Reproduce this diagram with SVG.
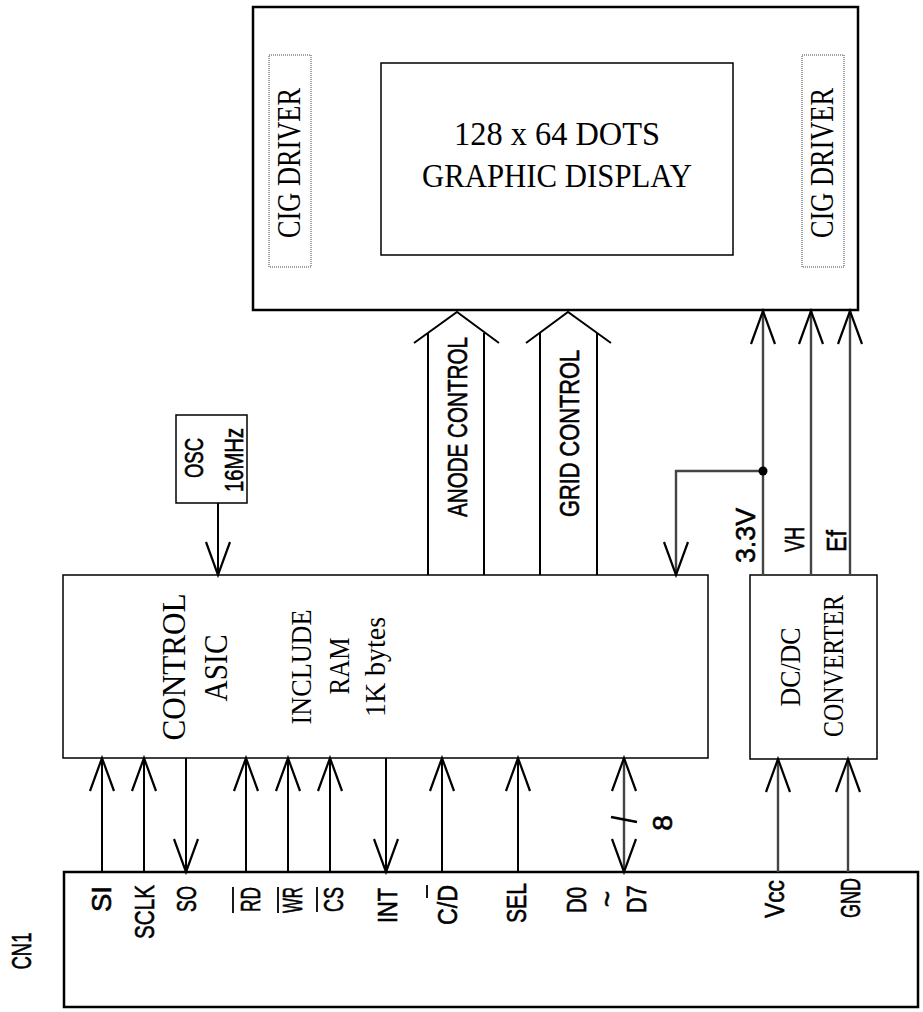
<svg xmlns="http://www.w3.org/2000/svg" width="923" height="1012" viewBox="0 0 923 1012">
<defs>
<style>
.box{fill:#fff;stroke:#000;stroke-width:1.5}
.bold{fill:#fff;stroke:#000;stroke-width:2.5}
.dot{fill:none;stroke:#444;stroke-width:1;stroke-dasharray:1 1}
.serif{font-family:"Liberation Serif","Times New Roman",serif;fill:#000;font-size:33px}
.sm{font-size:30px}
.sans{font-family:"Liberation Sans",Arial,sans-serif;fill:#000;stroke:#000;stroke-width:0.6;font-size:28px}
.w{stroke:#000;stroke-width:2;fill:none}
.g{stroke:#444;stroke-width:2.4;fill:none}
.ol{stroke:#000;stroke-width:1.8}
</style>
<marker id="ah" markerUnits="userSpaceOnUse" viewBox="-36 -15 39 30" refX="0" refY="0" markerWidth="39" markerHeight="30" orient="auto-start-reverse">
<path d="M-33,-12 L0,0 L-33,12" fill="none" stroke="#000" stroke-width="2.2"/>
</marker>
</defs>
<rect width="923" height="1012" fill="#fff"/>

<g id="display">
<rect class="bold" x="253" y="7" width="605" height="303"/>
<rect class="box" x="381" y="63" width="352" height="192"/>
<text class="serif" x="557" y="145" text-anchor="middle" textLength="206" lengthAdjust="spacingAndGlyphs">128 x 64 DOTS</text>
<text class="serif" x="557" y="187" text-anchor="middle" textLength="270" lengthAdjust="spacingAndGlyphs">GRAPHIC DISPLAY</text>
</g>
<g id="cig-left">
<rect class="dot" x="269" y="55" width="42" height="212"/>
<text class="serif" transform="translate(289,163) rotate(-90)" text-anchor="middle" dominant-baseline="central" textLength="150" lengthAdjust="spacingAndGlyphs">CIG DRIVER</text>
</g>
<g id="cig-right">
<rect class="dot" x="802" y="55" width="42" height="212"/>
<text class="serif" transform="translate(822,163) rotate(-90)" text-anchor="middle" dominant-baseline="central" textLength="150" lengthAdjust="spacingAndGlyphs">CIG DRIVER</text>
</g>

<g id="osc">
<rect class="box" x="176" y="415" width="71" height="88"/>
<text class="sans" style="font-size:25px" transform="translate(194,458) rotate(-90)" text-anchor="middle" dominant-baseline="central" textLength="40" lengthAdjust="spacingAndGlyphs">OSC</text>
<text class="sans" style="font-size:25px" transform="translate(234,460) rotate(-90)" text-anchor="middle" dominant-baseline="central" textLength="64" lengthAdjust="spacingAndGlyphs">16MHz</text>
</g>

<g id="asic">
<rect class="box" x="63" y="575" width="645" height="183"/>
<text class="serif" transform="translate(174,667) rotate(-90)" text-anchor="middle" dominant-baseline="central" textLength="147" lengthAdjust="spacingAndGlyphs">CONTROL</text>
<text class="serif" transform="translate(216,668) rotate(-90)" text-anchor="middle" dominant-baseline="central" textLength="67" lengthAdjust="spacingAndGlyphs">ASIC</text>
<text class="serif sm" transform="translate(300,667) rotate(-90)" text-anchor="middle" dominant-baseline="central" textLength="115" lengthAdjust="spacingAndGlyphs">INCLUDE</text>
<text class="serif sm" transform="translate(338,666) rotate(-90)" text-anchor="middle" dominant-baseline="central" textLength="57" lengthAdjust="spacingAndGlyphs">RAM</text>
<text class="serif sm" transform="translate(374,667) rotate(-90)" text-anchor="middle" dominant-baseline="central" textLength="100" lengthAdjust="spacingAndGlyphs">1K bytes</text>
</g>

<g id="dcdc">
<rect class="box" x="750" y="575" width="127" height="184"/>
<text class="serif sm" transform="translate(789,667) rotate(-90)" text-anchor="middle" dominant-baseline="central" textLength="79" lengthAdjust="spacingAndGlyphs">DC/DC</text>
<text class="serif sm" transform="translate(832,666) rotate(-90)" text-anchor="middle" dominant-baseline="central" textLength="142" lengthAdjust="spacingAndGlyphs">CONVERTER</text>
</g>

<g id="cn1">
<rect class="bold" x="64" y="872" width="854" height="135"/>
<text class="sans" transform="translate(21,951) rotate(-90)" text-anchor="middle" dominant-baseline="central" textLength="37" lengthAdjust="spacingAndGlyphs">CN1</text>
<text class="sans" transform="translate(101,886) rotate(-90)" text-anchor="end" dominant-baseline="central" textLength="26" lengthAdjust="spacingAndGlyphs">SI</text>
<text class="sans" transform="translate(144,885) rotate(-90)" text-anchor="end" dominant-baseline="central" textLength="54" lengthAdjust="spacingAndGlyphs">SCLK</text>
<text class="sans" transform="translate(186,886) rotate(-90)" text-anchor="end" dominant-baseline="central" textLength="26" lengthAdjust="spacingAndGlyphs">SO</text>
<text class="sans" transform="translate(250,887) rotate(-90)" text-anchor="end" dominant-baseline="central" textLength="25" lengthAdjust="spacingAndGlyphs">RD</text>
<line class="ol" x1="233" y1="887" x2="233" y2="913"/>
<text class="sans" transform="translate(292,887) rotate(-90)" text-anchor="end" dominant-baseline="central" textLength="26" lengthAdjust="spacingAndGlyphs">WR</text>
<line class="ol" x1="278" y1="887" x2="278" y2="913"/>
<text class="sans" transform="translate(333,887) rotate(-90)" text-anchor="end" dominant-baseline="central" textLength="25" lengthAdjust="spacingAndGlyphs">CS</text>
<line class="ol" x1="317" y1="887" x2="317" y2="912"/>
<text class="sans" transform="translate(387,888) rotate(-90)" text-anchor="end" dominant-baseline="central" textLength="35" lengthAdjust="spacingAndGlyphs">INT</text>
<text class="sans" transform="translate(447,885) rotate(-90)" text-anchor="end" dominant-baseline="central" textLength="40" lengthAdjust="spacingAndGlyphs">C/D</text>
<line class="ol" x1="427" y1="885" x2="427" y2="898"/>
<text class="sans" transform="translate(516,883) rotate(-90)" text-anchor="end" dominant-baseline="central" textLength="40" lengthAdjust="spacingAndGlyphs">SEL</text>
<text class="sans" transform="translate(576,887) rotate(-90)" text-anchor="end" dominant-baseline="central" textLength="26" lengthAdjust="spacingAndGlyphs">D0</text>
<text class="sans" transform="translate(607,899) rotate(-90)" text-anchor="middle" dominant-baseline="central">~</text>
<text class="sans" transform="translate(636,885) rotate(-90)" text-anchor="end" dominant-baseline="central" textLength="28" lengthAdjust="spacingAndGlyphs">D7</text>
<text class="sans" transform="translate(774,880) rotate(-90)" text-anchor="end" dominant-baseline="central" textLength="38" lengthAdjust="spacingAndGlyphs">Vcc</text>
<text class="sans" transform="translate(850,878) rotate(-90)" text-anchor="end" dominant-baseline="central" textLength="40" lengthAdjust="spacingAndGlyphs">GND</text>
</g>

<g id="connectors">
<line class="w" x1="218" y1="503" x2="218" y2="575" marker-end="url(#ah)"/>
<path class="w" d="M428,575 V333 M484,575 V333 M414,343 L457,312 L499,343"/>
<path class="w" d="M540,575 V333 M597,575 V333 M526,343 L568,312 L611,343"/>
<text class="sans" transform="translate(457,517) rotate(-90)" text-anchor="start" dominant-baseline="central" textLength="180" lengthAdjust="spacingAndGlyphs">ANODE CONTROL</text>
<text class="sans" transform="translate(569,517) rotate(-90)" text-anchor="start" dominant-baseline="central" textLength="167" lengthAdjust="spacingAndGlyphs">GRID CONTROL</text>
<line class="g" x1="763" y1="575" x2="763" y2="311" marker-end="url(#ah)"/>
<line class="g" x1="811" y1="575" x2="811" y2="311" marker-end="url(#ah)"/>
<line class="g" x1="850" y1="575" x2="850" y2="311" marker-end="url(#ah)"/>
<path class="g" d="M763,471 H676 V575" marker-end="url(#ah)"/>
<circle cx="763" cy="471" r="4.5" fill="#000"/>
<text class="sans" transform="translate(745,563) rotate(-90)" text-anchor="start" dominant-baseline="central" textLength="55" lengthAdjust="spacingAndGlyphs">3.3V</text>
<text class="sans" transform="translate(794,552) rotate(-90)" text-anchor="start" dominant-baseline="central" textLength="25" lengthAdjust="spacingAndGlyphs">VH</text>
<text class="sans" transform="translate(836,552) rotate(-90)" text-anchor="start" dominant-baseline="central" textLength="22" lengthAdjust="spacingAndGlyphs">Ef</text>
<line class="g" x1="778" y1="872" x2="778" y2="759" marker-end="url(#ah)"/>
<line class="g" x1="848" y1="872" x2="848" y2="759" marker-end="url(#ah)"/>
<line class="w" x1="102" y1="872" x2="102" y2="758" marker-end="url(#ah)"/>
<line class="w" x1="144" y1="872" x2="144" y2="758" marker-end="url(#ah)"/>
<line class="w" x1="186" y1="758" x2="186" y2="872" marker-end="url(#ah)"/>
<line class="w" x1="246" y1="872" x2="246" y2="758" marker-end="url(#ah)"/>
<line class="w" x1="288" y1="872" x2="288" y2="758" marker-end="url(#ah)"/>
<line class="w" x1="330" y1="872" x2="330" y2="758" marker-end="url(#ah)"/>
<line class="w" x1="386" y1="758" x2="386" y2="872" marker-end="url(#ah)"/>
<line class="w" x1="442" y1="872" x2="442" y2="758" marker-end="url(#ah)"/>
<line class="w" x1="518" y1="872" x2="518" y2="758" marker-end="url(#ah)"/>
<line class="g" x1="624" y1="872" x2="624" y2="758" marker-start="url(#ah)" marker-end="url(#ah)"/>
<line x1="611" y1="817" x2="637" y2="822" stroke="#000" stroke-width="2.6"/>
<text class="sans" transform="translate(662,823) rotate(-90)" text-anchor="middle" dominant-baseline="central">8</text>
</g>
</svg>
